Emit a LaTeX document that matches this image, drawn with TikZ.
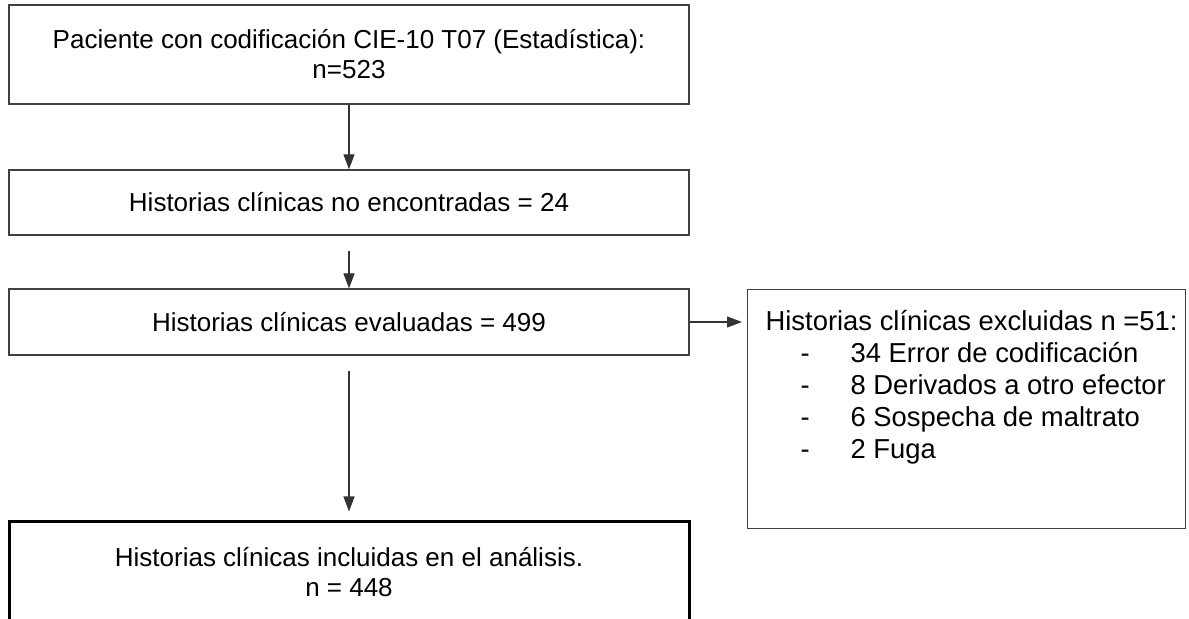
\documentclass[tikz,border=0pt]{standalone}
\usepackage{fontspec}
\setmainfont{Liberation Sans}
\usetikzlibrary{positioning,arrows.meta}
\newcommand{\motivo}[1]{\hspace*{26.5pt}\makebox[25pt][l]{-}#1\par}

\begin{document}
\begin{tikzpicture}[x=0.5pt, y=-0.5pt, ->, >={Triangle[length=7.5pt,width=5.5pt]}, line width=0.6pt, draw=black!80]
		\tikzstyle{caja}=[draw=black!75, rectangle, inner sep=0pt, minimum width=340pt, align=center, font=\fontsize{13}{15}\selectfont]
		\useasboundingbox (0,0) rectangle (1189,619);

		\node[caja, minimum height=49.5pt] (paciente) at (349,54.5) {Paciente con codificación CIE-10 T07 (Estadística):\\n=523};
		\node[caja, minimum height=32.5pt] (noenc) at (349,202.5) {Historias clínicas no encontradas = 24};
		\node[caja, minimum height=33pt] (evaluadas) at (349,322) {Historias clínicas evaluadas = 499};
		\node[caja, minimum height=50pt, draw=black, line width=1.5pt] (incluidas) at (349,572) {Historias clínicas incluidas en el análisis.\\n = 448};
		\node[draw=black!75, inner sep=0pt, anchor=north west] (excluidas) at (747,289)
			{\begin{minipage}[c][119.5pt][t]{219pt}\fontsize{13.7}{16}\selectfont
			\vspace*{10.5pt}\hspace*{9pt}Historias clínicas excluidas n =51:\par
			\motivo{34 Error de codificación}
			\motivo{8 Derivados a otro efector}
			\motivo{6 Sospecha de maltrato}
			\motivo{2 Fuga}
			\end{minipage}};

		\draw (paciente) -- (noenc);
		\draw[shorten <=7.5pt] (noenc) -- (evaluadas);
		\draw[shorten <=7.5pt, shorten >=4.5pt] (evaluadas) -- (incluidas);
		\draw[shorten >=2.5pt] (evaluadas.east) -- (excluidas.west |- evaluadas.east);
	\end{tikzpicture}
\end{document}
